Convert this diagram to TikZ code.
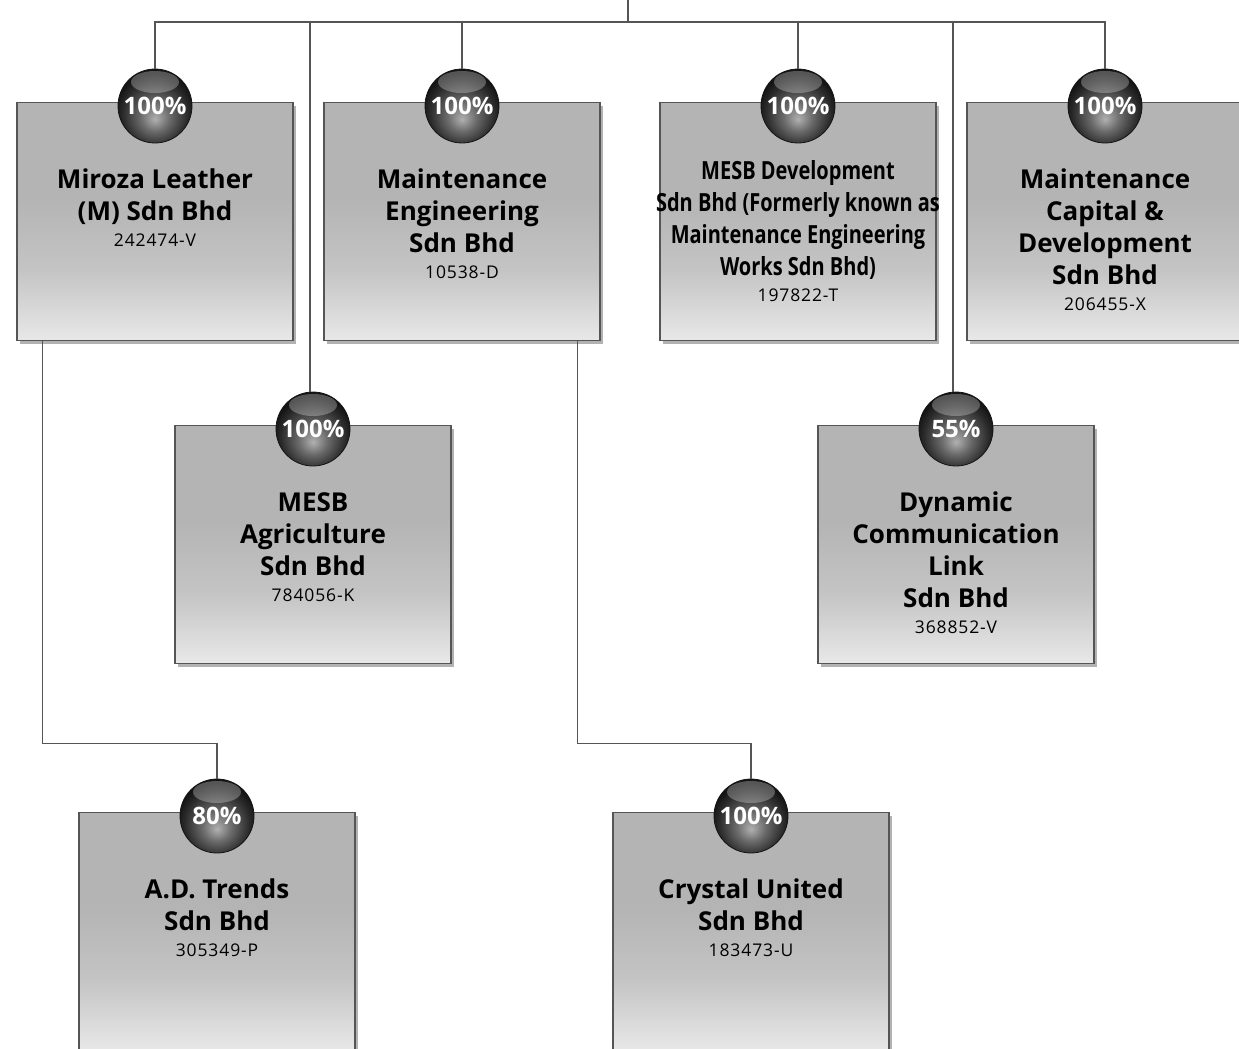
\documentclass[tikz,border=0pt]{standalone}
\usepackage{fontspec}
\setmainfont{Open Sans}
\newfontfamily\condfont[FakeStretch=0.8]{Open Sans}
\newfontfamily\regfamily[LetterSpace=5]{Open Sans}
\usetikzlibrary{shadows}
\definecolor{ctop}{HTML}{B4B4B4}
\definecolor{cmid}{HTML}{C4C4C4}
\definecolor{cbot}{HTML}{E8E8E8}
\definecolor{cline}{HTML}{555555}
\definecolor{bcen}{HTML}{B0B0B0}
\definecolor{bmid}{HTML}{6A6A6A}
\definecolor{bdark}{HTML}{2A2A2A}
\definecolor{bout}{HTML}{141414}
\pgfdeclareverticalshading{boxshade}{100bp}{color(0bp)=(cbot); color(25bp)=(cbot); color(40bp)=(cmid); color(55bp)=(ctop); color(100bp)=(ctop)}
\pgfdeclareradialshading{badgeshade}{\pgfpoint{0bp}{-9bp}}{color(0bp)=(bcen); color(10bp)=(bmid); color(22bp)=(bdark); color(27bp)=(bout); color(50bp)=(bout)}
\newcommand{\regfont}{\regfamily\mdseries\fontsize{17.5}{20}\selectfont}
\tikzset{
  cbox/.style={rectangle, minimum width=276pt, minimum height=238pt, inner sep=0pt,
    draw=cline, line width=1.4pt, shading=boxshade,
    drop shadow={shadow xshift=3pt, shadow yshift=-3pt, opacity=0.3, fill=black}},
  badge/.style={circle, minimum size=74pt, inner sep=0pt, shading=badgeshade,
    draw=bout, line width=0.8pt, text=white, font=\fontsize{24}{24}\selectfont\bfseries,
    path picture={\fill[white, opacity=0.28] ([yshift=-13pt]path picture bounding box.north) ellipse (24pt and 11pt);}},
  ctext/.style={anchor=north, align=center, inner sep=0pt, text=black,
    font=\fontsize{26}{32}\selectfont\bfseries},
  condtext/.style={font=\condfont\fontsize{25}{32}\selectfont\bfseries},
  conn/.style={draw=cline, line width=1.5pt}
}
% #1 extra text style, #2 id, #3 x centre, #4 y top, #5 percent, #6 text offset, #7 name, #8 reg
\newcommand{\company}[8][]{%
  \node[cbox, anchor=north] (#2) at (#3,#4) {};
  \node[badge] (#2b) at ([yshift=-4pt]#2.north) {#5\%};
  \node[ctext, #1] (#2t) at ([yshift=-#6pt]#2.north) {#7\\[-6pt]{\regfont #8}};
}
\begin{document}
\begin{tikzpicture}[x=1pt, y=-1pt]
\useasboundingbox (0,0) rectangle (1239,1049);
\clip (0,0) rectangle (1239,1049);
\fill[white] (0,0) rectangle (1239,1049);

\company{m1}{155}{102}{100}{67}{Miroza Leather\\(M) Sdn Bhd}{242474-V}
\company{m2}{462}{102}{100}{67}{Maintenance\\Engineering\\Sdn Bhd}{10538-D}
\company[condtext]{m3}{798}{102}{100}{58}{MESB Development\\Sdn Bhd (Formerly known as\\Maintenance Engineering\\Works Sdn Bhd)}{197822-T}
\company{m4}{1105}{102}{100}{67}{Maintenance\\Capital \&\\Development\\Sdn Bhd}{206455-X}
\company{ag}{313}{425}{100}{67}{MESB\\Agriculture\\Sdn Bhd}{784056-K}
\company{dc}{956}{425}{55}{67}{Dynamic\\Communication\\Link\\Sdn Bhd}{368852-V}
\company{ad}{217}{812}{80}{67}{A.D. Trends\\Sdn Bhd}{305349-P}
\company{cu}{751}{812}{100}{67}{Crystal United\\Sdn Bhd}{183473-U}

\coordinate (root) at (628,0);
\coordinate (bus) at (628,22);
\draw[conn] (root) -- (bus);
\draw[conn] (m1b.north) |- (bus) -| (m4b.north);
\draw[conn] (m2b.north) -- (m2b.north |- bus);
\draw[conn] (m3b.north) -- (m3b.north |- bus);
\draw[conn] ([xshift=-3pt]agb.north) -- ([xshift=-3pt]agb.north |- bus);
\draw[conn] ([xshift=-3pt]dcb.north) -- ([xshift=-3pt]dcb.north |- bus);
\draw[conn] ([xshift=26pt]m1.south west) -- ++(0,402) -| (adb.north);
\draw[conn] ([xshift=-23pt]m2.south east) -- ++(0,402) -| (cub.north);
\end{tikzpicture}
\end{document}
